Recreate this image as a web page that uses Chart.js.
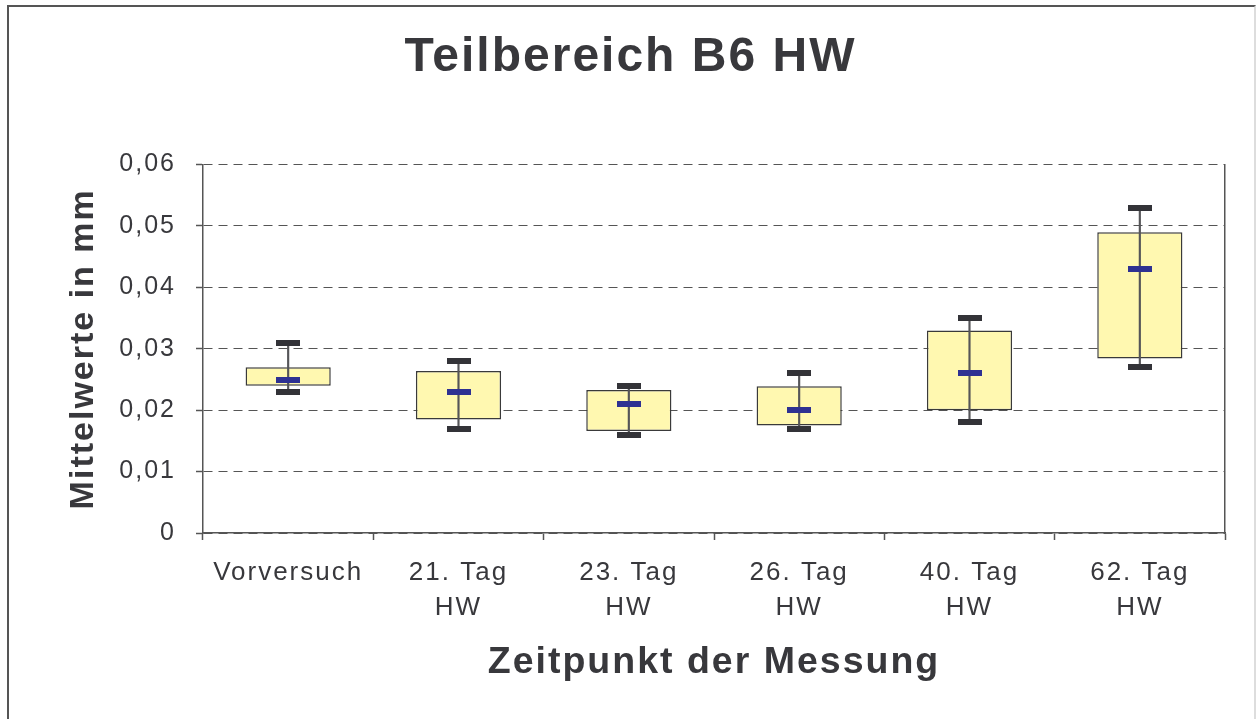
<!DOCTYPE html>
<html>
<head>
<meta charset="utf-8">
<script src="https://cdn.jsdelivr.net/npm/chart.js@4.4.7/dist/chart.umd.min.js"></script>
<style>
  html, body { margin: 0; padding: 0; background: #fff; }
  #frame {
    position: absolute; left: 7px; top: 5px; width: 1245px; height: 720px;
    border-left: 2px solid #555; border-top: 2px solid #555; border-right: 2px solid #ddd;
  }
  #wrap { position: absolute; left: 0; top: 0; width: 1256px; height: 719px; }
</style>
</head>
<body>
<div id="frame"></div>
<div id="wrap"><canvas id="chart"></canvas></div>
<script>
const categories = [['Vorversuch'], ['21. Tag', 'HW'], ['23. Tag', 'HW'], ['26. Tag', 'HW'], ['40. Tag', 'HW'], ['62. Tag', 'HW']];
const minValues = [0.023, 0.017, 0.016, 0.017, 0.018, 0.027];
const q1Values = [0.024, 0.0185, 0.0166, 0.0175, 0.020, 0.0284];
const medianValues = [0.025, 0.023, 0.021, 0.020, 0.026, 0.043];
const q3Values = [0.027, 0.0264, 0.0233, 0.0239, 0.033, 0.049];
const maxValues = [0.031, 0.028, 0.024, 0.026, 0.035, 0.053];
const yTicks = [0, 0.01, 0.02, 0.03, 0.04, 0.05, 0.06];

const textColor = '#38383c';
const fontFamily = 'Arial, "Liberation Sans", sans-serif';

function markImage(w, h, color) {
  const c = document.createElement('canvas');
  c.width = w;
  c.height = h;
  const g = c.getContext('2d');
  g.fillStyle = color;
  g.fillRect(0, 0, w, h);
  return c;
}

const capMark = markImage(24, 6, '#333338');
const medianMark = markImage(24, 6, '#2e3192');

// canvas text in the original is spaced out a bit
const spacingPlugin = {
  id: 'spacing',
  beforeUpdate(chart) { chart.ctx.letterSpacing = '2px'; },
  beforeDraw(chart) { chart.ctx.letterSpacing = '2px'; }
};

const boxData = q1Values.map((v, i) => [v, q3Values[i]]);
const whiskerData = minValues.map((v, i) => [v, maxValues[i]]);

new Chart(document.getElementById('chart'), {
  type: 'bar',
  data: {
    labels: categories,
    datasets: [
      {
        type: 'line',
        data: medianValues,
        showLine: false,
        pointStyle: medianMark,
        pointRadius: 12,
        pointHoverRadius: 12,
        order: 0
      },
      {
        type: 'line',
        data: minValues,
        showLine: false,
        pointStyle: capMark,
        pointRadius: 12,
        order: 1
      },
      {
        type: 'line',
        data: maxValues,
        showLine: false,
        pointStyle: capMark,
        pointRadius: 12,
        order: 1
      },
      {
        data: whiskerData,
        backgroundColor: '#555558',
        barThickness: 1.5,
        grouped: false,
        order: 2
      },
      {
        data: boxData,
        backgroundColor: '#fff8b0',
        borderColor: '#3a3a3a',
        borderWidth: 1.5,
        borderSkipped: false,
        categoryPercentage: 1,
        barPercentage: 0.5,
        grouped: false,
        order: 3
      }
    ]
  },
  options: {
    responsive: true,
    maintainAspectRatio: false,
    animation: false,
    layout: { padding: { left: 36, right: 31, top: 0, bottom: 0 } },
    plugins: {
      legend: { display: false },
      tooltip: { enabled: false },
      title: {
        display: true,
        text: 'Teilbereich B6 HW',
        color: textColor,
        font: { family: fontFamily, size: 48, weight: 'bold' },
        padding: { top: 29, bottom: 78 }
      }
    },
    scales: {
      x: {
        offset: true,
        grid: {
          offset: true,
          drawOnChartArea: false,
          color: '#555',
          tickLength: 7,
          tickWidth: 1.5
        },
        border: { color: '#555', width: 1.5 },
        ticks: {
          color: textColor,
          padding: 15,
          maxRotation: 0,
          autoSkip: false,
          font: { family: fontFamily, size: 26, lineHeight: 1.35 }
        },
        title: {
          display: true,
          text: 'Zeitpunkt der Messung',
          color: textColor,
          font: { family: fontFamily, size: 37.5, weight: 'bold' },
          padding: { bottom: 34 }
        },
        afterFit(scale) { scale.height = 186; }
      },
      y: {
        min: 0,
        max: 0.06,
        afterBuildTicks(scale) { scale.ticks = yTicks.map(v => ({ value: v })); },
        grid: {
          color: '#555',
          lineWidth: 1,
          tickLength: 7,
          tickBorderDash: [],
          tickWidth: 1.5
        },
        border: { color: '#555', width: 1.5, dash: [9, 6] },
        ticks: {
          color: textColor,
          padding: 20,
          font: { family: fontFamily, size: 25 },
          callback: v => String(v).replace('.', ',')
        },
        title: {
          display: true,
          text: 'Mittelwerte in mm',
          color: textColor,
          font: { family: fontFamily, size: 34, weight: 'bold' },
          padding: { top: 27 }
        },
        afterFit(scale) { scale.width = 167; }
      },
      y2: {
        position: 'right',
        display: true,
        min: 0,
        max: 0.06,
        grid: { drawOnChartArea: false, drawTicks: false },
        border: { color: '#555', width: 1.5 },
        ticks: { display: false },
        afterFit(scale) { scale.width = 0; }
      }
    }
  },
  plugins: [spacingPlugin]
});
</script>
</body>
</html>
